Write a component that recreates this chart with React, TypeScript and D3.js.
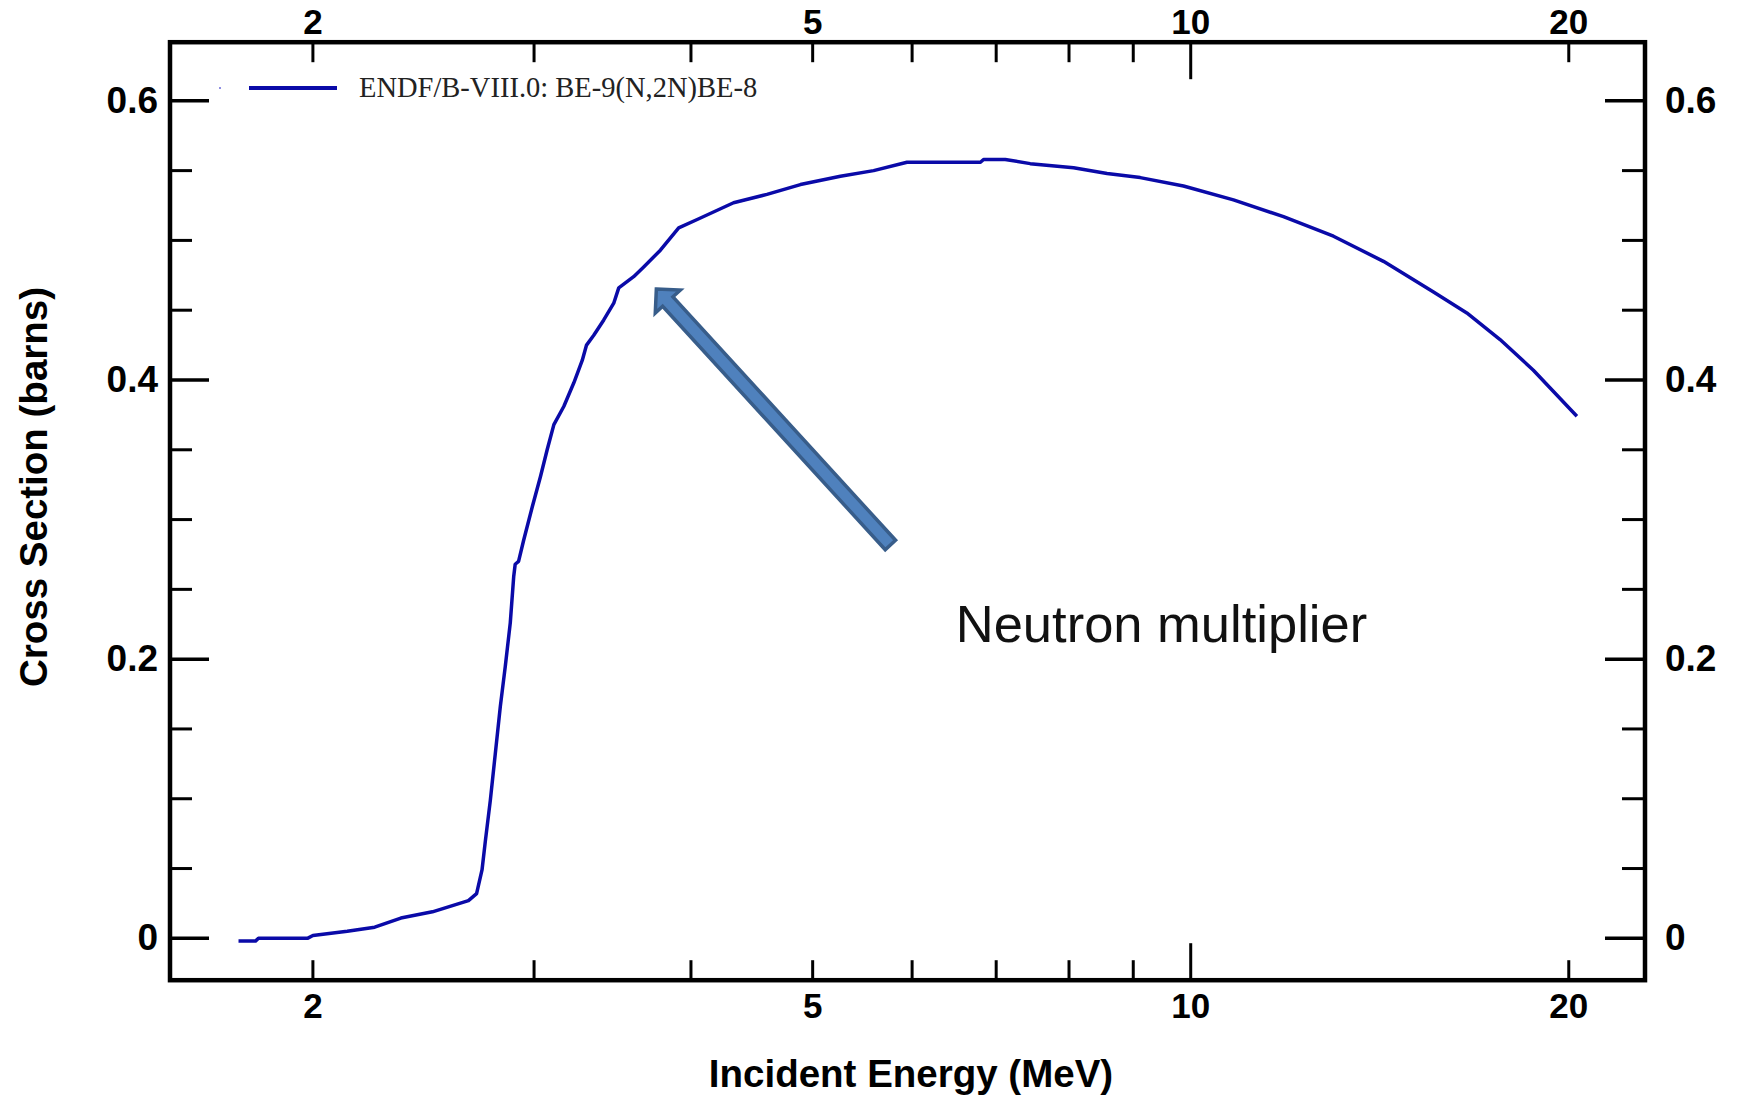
import React from 'react';
import { scaleLog, scaleLinear, line } from 'd3';

const width = 1737;
const height = 1098;

// Be-9(n,2n) cross section
const energy = [1.745, 1.8, 1.81, 1.98, 2.0, 2.13, 2.24, 2.35, 2.49, 2.66, 2.7, 2.727, 2.744, 2.769, 2.794, 2.82, 2.846, 2.872, 2.89, 2.898, 2.916, 2.943, 2.99, 3.036, 3.073, 3.111, 3.168, 3.227, 3.277, 3.303, 3.347, 3.409, 3.472, 3.504, 3.601, 3.668, 3.782, 3.911, 4.046, 4.325, 4.598, 4.889, 5.261, 5.591, 5.944, 6.801, 6.84, 7.117, 7.451, 8.067, 8.578, 9.116, 9.868, 10.815, 11.854, 12.992, 14.239, 15.607, 16.59, 17.633, 18.743, 20.3];
const crossSection = [-0.002, -0.002, 0.0, 0.0, 0.002, 0.005, 0.008, 0.0145, 0.019, 0.027, 0.032, 0.049, 0.07, 0.099, 0.132, 0.166, 0.195, 0.226, 0.259, 0.268, 0.27, 0.285, 0.309, 0.331, 0.35, 0.368, 0.381, 0.398, 0.414, 0.425, 0.432, 0.443, 0.455, 0.466, 0.474, 0.481, 0.493, 0.509, 0.515, 0.527, 0.533, 0.54, 0.546, 0.55, 0.556, 0.556, 0.558, 0.558, 0.555, 0.552, 0.548, 0.545, 0.539, 0.529, 0.517, 0.503, 0.485, 0.463, 0.448, 0.429, 0.407, 0.374];

const xMinorTicks = [2, 3, 4, 5, 6, 7, 8, 9, 20];
const xMajorTicks = [10];
const xTickLabels = [2, 5, 10, 20];
const yMajorTicks = [0, 0.2, 0.4, 0.6];
const yMinorTicks = [0.05, 0.1, 0.15, 0.25, 0.3, 0.35, 0.45, 0.5, 0.55];

const legendLabel = 'ENDF/B-VIII.0: BE-9(N,2N)BE-8';
const noteText = 'Neutron multiplier';
// arrow tail / tip in data units
const arrowFrom = [5.766, 0.2818];
const arrowTo = [3.754, 0.4652];
const notePos = [6.5, 0.212];

const curveColor = '#0a0aa8';

function App() {
  const x = scaleLog().domain([1.539, 23.0]).range([170, 1645]);
  const y = scaleLinear().domain([-0.03, 0.642]).range([980.2, 42.2]);
  const [left, right] = x.range();
  const [bottom, top] = y.range();

  const pts = energy.map((e, i) => [e, crossSection[i]]);
  const path = line().x(d => x(d[0])).y(d => y(d[1]))(pts);

  // block arrow
  const tx = x(arrowTo[0]), ty = y(arrowTo[1]);
  const sx = x(arrowFrom[0]), sy = y(arrowFrom[1]);
  const len = Math.hypot(tx - sx, ty - sy);
  const ux = (tx - sx) / len, uy = (ty - sy) / len;
  const nx = -uy, ny = ux;
  const hl = 17, hw = 17, sw = 7;
  const bx = tx - ux * hl, by = ty - uy * hl;
  const arrowPts = [
    [tx, ty],
    [bx + nx * hw, by + ny * hw],
    [bx + nx * sw, by + ny * sw],
    [sx + nx * sw, sy + ny * sw],
    [sx - nx * sw, sy - ny * sw],
    [bx - nx * sw, by - ny * sw],
    [bx - nx * hw, by - ny * hw],
  ].map(p => p.join(',')).join(' ');

  const bold = { fontFamily: '"Liberation Sans", Arial, sans-serif', fontWeight: 'bold' };

  return (
    <svg width={width} height={height} style={{ position: 'absolute', left: 0, top: 0, background: '#fff' }}>
      <path d={path} fill="none" stroke={curveColor} strokeWidth={3.5} strokeLinejoin="round" />

      {/* ticks */}
      {xMinorTicks.map(t => (
        <g key={'xm' + t}>
          <line x1={x(t)} x2={x(t)} y1={bottom} y2={bottom - 20} stroke="#000" strokeWidth={3} />
          <line x1={x(t)} x2={x(t)} y1={top} y2={top + 20} stroke="#000" strokeWidth={3} />
        </g>
      ))}
      {xMajorTicks.map(t => (
        <g key={'xM' + t}>
          <line x1={x(t)} x2={x(t)} y1={bottom} y2={bottom - 37} stroke="#000" strokeWidth={3} />
          <line x1={x(t)} x2={x(t)} y1={top} y2={top + 37} stroke="#000" strokeWidth={3} />
        </g>
      ))}
      {yMinorTicks.map(t => (
        <g key={'ym' + t}>
          <line x1={left} x2={left + 22} y1={y(t)} y2={y(t)} stroke="#000" strokeWidth={3} />
          <line x1={right} x2={right - 23} y1={y(t)} y2={y(t)} stroke="#000" strokeWidth={3} />
        </g>
      ))}
      {yMajorTicks.map(t => (
        <g key={'yM' + t}>
          <line x1={left} x2={left + 39} y1={y(t)} y2={y(t)} stroke="#000" strokeWidth={3.5} />
          <line x1={right} x2={right - 40} y1={y(t)} y2={y(t)} stroke="#000" strokeWidth={3.5} />
        </g>
      ))}

      <rect x={left} y={top} width={right - left} height={bottom - top} fill="none" stroke="#000" strokeWidth={4.5} />

      {/* tick labels */}
      {xTickLabels.map(t => (
        <g key={'xl' + t} style={bold} fontSize={35} textAnchor="middle">
          <text x={x(t)} y={1018}>{t}</text>
          <text x={x(t)} y={34}>{t}</text>
        </g>
      ))}
      {yMajorTicks.map(t => (
        <g key={'yl' + t} style={bold} fontSize={37}>
          <text x={158} y={y(t) + 12} textAnchor="end">{String(t)}</text>
          <text x={1665} y={y(t) + 12}>{String(t)}</text>
        </g>
      ))}

      {/* axis titles */}
      <text x={911} y={1087} textAnchor="middle" style={bold} fontSize={38.5}>Incident Energy (MeV)</text>
      <text transform="translate(47,487) rotate(-90)" textAnchor="middle" style={bold} fontSize={38.5}>Cross Section (barns)</text>

      {/* legend */}
      <circle cx={220} cy={88} r={1} fill="#6a6ad8" />
      <line x1={249} x2={337} y1={88} y2={88} stroke={curveColor} strokeWidth={4} />
      <text x={359} y={97} fontFamily='"Liberation Serif", "Times New Roman", serif' fontSize={28.5} fill="#222">{legendLabel}</text>

      {/* annotation */}
      <polygon points={arrowPts} fill="#4f81bd" stroke="#385d8a" strokeWidth={3.5} strokeLinejoin="miter" />
      <text x={x(notePos[0])} y={y(notePos[1])} fontFamily='"Liberation Sans", Arial, sans-serif' fontSize={52.5} fill="#111">{noteText}</text>
    </svg>
  );
}

export default App;
